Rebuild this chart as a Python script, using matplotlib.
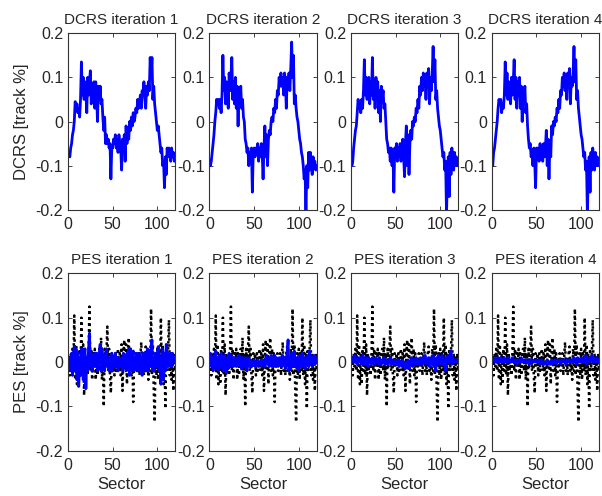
import numpy as np
import matplotlib
matplotlib.use("Agg")
import matplotlib.pyplot as plt

plt.rcParams['font.family'] = ['Liberation Sans', 'DejaVu Sans']
plt.rcParams['axes.unicode_minus'] = False

# DCRS per iteration, sectors 0..120
dcrs_1 = [-0.08, -0.07, -0.08, -0.06, -0.05, -0.03, -0.02, 0.00, 0.045, 0.03,
          0.04, 0.02, 0.03, 0.01, 0.05, 0.135, 0.06, 0.10, 0.05, 0.09,
          0.07, 0.02, 0.10, 0.06, 0.09, 0.115, 0.04, 0.08, 0.05, 0.09,
          0.03, 0.09, 0.06, 0.00, 0.08, 0.05, 0.08, 0.04, 0.05, 0.01,
          -0.02, 0.01, -0.05, -0.03, -0.05, -0.04, -0.06, -0.05, -0.13, -0.06,
          -0.06, -0.04, -0.05, -0.03, -0.06, -0.04, -0.07, -0.03, -0.05, -0.06,
          -0.11, -0.04, -0.07, -0.03, -0.09, -0.01, -0.05, -0.02, -0.04, 0.00,
          -0.02, 0.01, -0.01, 0.02, 0.00, 0.01, 0.03, 0.02, 0.05, 0.03,
          0.04, 0.06, 0.03, 0.07, 0.06, 0.09, 0.05, 0.03, 0.08, 0.06,
          0.09, 0.07, 0.145, 0.10, 0.145, 0.05, 0.08, 0.04, 0.02, 0.00,
          -0.02, -0.01, -0.03, -0.05, -0.07, -0.06, -0.10, -0.09, -0.15, -0.08,
          -0.12, -0.06, -0.08, -0.06, -0.07, -0.09, -0.06, -0.08, -0.07, -0.09, -0.08]

dcrs_2 = [-0.09, -0.10, -0.09, -0.07, -0.05, -0.03, 0.00, 0.02, 0.05, 0.04,
          0.05, 0.03, 0.05, 0.02, 0.06, 0.15, 0.07, 0.10, 0.04, 0.09,
          0.07, 0.03, 0.11, 0.07, 0.10, 0.145, 0.05, 0.09, 0.04, 0.10,
          0.03, 0.08, -0.01, 0.07, 0.04, 0.08, 0.03, 0.05, 0.01, 0.00,
          -0.04, -0.05, -0.07, -0.06, -0.10, -0.07, -0.08, -0.06, -0.16, -0.07,
          -0.06, -0.08, -0.06, -0.07, -0.05, -0.09, -0.06, -0.08, -0.05, -0.07,
          -0.13, -0.06, -0.01, -0.08, -0.03, -0.10, -0.04, -0.02, -0.03, 0.00,
          0.01, 0.00, 0.03, 0.02, 0.05, 0.03, 0.07, 0.06, 0.10, 0.08,
          0.11, 0.08, 0.10, 0.06, 0.11, 0.09, 0.03, 0.10, 0.08, 0.11,
          0.07, 0.12, 0.18, 0.10, 0.15, 0.04, 0.06, 0.03, 0.01, 0.00,
          -0.02, -0.04, -0.05, -0.07, -0.08, -0.10, -0.13, -0.11, -0.21, -0.10,
          -0.15, -0.07, -0.11, -0.07, -0.09, -0.12, -0.08, -0.10, -0.09, -0.11, -0.10]

dcrs_3 = [-0.07, -0.10, -0.09, -0.06, -0.04, -0.02, -0.01, 0.02, 0.05, 0.03,
          0.04, 0.02, 0.05, 0.03, 0.07, 0.14, 0.06, 0.10, 0.05, 0.08,
          0.10, 0.04, 0.09, 0.06, 0.145, 0.05, 0.09, 0.03, 0.10, 0.06,
          0.09, 0.02, 0.07, 0.00, 0.08, 0.05, 0.07, 0.03, 0.04, 0.00,
          -0.04, -0.05, -0.07, -0.06, -0.09, -0.06, -0.10, -0.07, -0.16, -0.06,
          -0.07, -0.05, -0.09, -0.06, -0.08, -0.05, -0.09, -0.06, -0.04, -0.08,
          -0.125, -0.05, -0.01, -0.10, -0.03, -0.12, -0.05, -0.02, -0.04, 0.00,
          -0.01, 0.01, 0.00, 0.03, 0.02, 0.05, 0.03, 0.08, 0.06, 0.10,
          0.07, 0.11, 0.08, 0.10, 0.05, 0.11, 0.08, 0.12, 0.04, 0.10,
          0.07, 0.11, 0.17, 0.09, 0.14, 0.05, 0.07, 0.03, 0.01, -0.01,
          -0.02, -0.04, -0.06, -0.08, -0.07, -0.11, -0.09, -0.21, -0.12, -0.08,
          -0.17, -0.07, -0.12, -0.06, -0.09, -0.11, -0.07, -0.10, -0.08, -0.10, -0.09]

dcrs_4 = [-0.08, -0.10, -0.07, -0.06, -0.04, -0.02, 0.00, 0.03, 0.05, 0.04,
          0.05, 0.02, 0.04, 0.03, 0.06, 0.135, 0.06, 0.11, 0.05, 0.09,
          0.07, 0.04, 0.10, 0.06, 0.09, 0.14, 0.05, 0.10, 0.03, 0.09,
          0.06, 0.10, 0.03, 0.08, 0.00, 0.07, 0.05, 0.08, 0.02, 0.04,
          -0.01, -0.04, -0.06, -0.05, -0.08, -0.07, -0.10, -0.06, -0.09, -0.15,
          -0.06, -0.08, -0.06, -0.09, -0.05, -0.07, -0.06, -0.09, -0.05, -0.08,
          -0.06, -0.02, -0.10, -0.04, -0.13, -0.05, -0.08, -0.01, -0.03, 0.00,
          -0.01, 0.01, 0.00, 0.03, 0.02, 0.05, 0.03, 0.07, 0.06, 0.10,
          0.08, 0.11, 0.07, 0.10, 0.05, 0.11, 0.09, 0.12, 0.04, 0.10,
          0.08, 0.11, 0.17, 0.09, 0.14, 0.05, 0.07, 0.03, 0.01, -0.01,
          -0.03, -0.04, -0.06, -0.08, -0.07, -0.11, -0.09, -0.21, -0.12, -0.08,
          -0.16, -0.07, -0.11, -0.06, -0.09, -0.11, -0.07, -0.10, -0.08, -0.10, -0.09]

# PES without compensation (black dotted, same in every panel)
pes_open = [-0.02, 0.01, -0.03, 0.02, -0.01, 0.03, -0.02, 0.105, -0.04, 0.04,
            -0.05, 0.02, -0.05, 0.03, -0.02, 0.10, -0.03, 0.04, -0.075, 0.02,
            -0.02, 0.01, -0.03, 0.02, 0.125, -0.02, 0.03, -0.04, 0.02, -0.01,
            0.03, -0.04, 0.02, -0.03, 0.01, 0.03, -0.02, 0.055, -0.04, 0.02,
            -0.10, 0.03, -0.01, 0.02, 0.08, -0.02, 0.03, -0.03, -0.07, 0.02,
            -0.01, 0.02, -0.03, 0.02, -0.02, 0.01, 0.03, -0.02, 0.02, -0.03,
            0.04, -0.065, 0.01, 0.05, -0.02, 0.04, -0.05, 0.03, 0.055, -0.02,
            0.03, -0.03, 0.02, -0.09, 0.01, -0.01, 0.02, -0.02, 0.00, 0.02,
            -0.03, 0.01, 0.045, -0.02, 0.01, -0.03, 0.02, 0.035, -0.02, 0.01,
            -0.04, 0.03, -0.02, 0.12, -0.03, 0.04, -0.06, -0.135, 0.02, -0.03,
            0.03, -0.04, 0.02, -0.02, 0.10, -0.03, 0.04, -0.05, 0.02, -0.105,
            0.03, -0.02, 0.02, 0.095, -0.03, 0.02, -0.04, 0.01, -0.065, 0.02, -0.02]

# PES per iteration (blue)
pes_1 = [0.00, -0.02, 0.01, -0.02, 0.02, -0.03, 0.02, 0.035, -0.02, 0.03,
         -0.04, 0.02, -0.055, 0.01, -0.03, 0.03, 0.02, -0.04, 0.01, 0.03,
         -0.06, 0.01, -0.02, 0.03, 0.065, -0.01, 0.02, -0.02, 0.01, -0.01,
         0.02, -0.01, 0.02, -0.02, 0.01, 0.02, 0.04, -0.02, 0.03, -0.01,
         0.01, -0.02, 0.02, 0.03, -0.01, 0.01, -0.02, 0.01, -0.01, 0.02,
         -0.02, 0.01, -0.01, 0.02, -0.01, 0.01, -0.02, 0.01, 0.00, -0.01,
         0.01, -0.02, 0.02, -0.01, 0.01, -0.02, 0.02, -0.01, 0.03, -0.03,
         0.03, -0.02, 0.01, 0.025, -0.02, 0.01, -0.01, 0.02, -0.02, 0.01,
         0.02, -0.02, 0.01, -0.03, 0.02, -0.01, 0.02, -0.02, 0.01, 0.03,
         -0.02, 0.02, -0.01, 0.03, 0.05, -0.02, 0.01, -0.02, 0.02, -0.01,
         0.02, 0.035, -0.02, 0.01, -0.05, 0.02, 0.03, -0.04, 0.02, -0.02,
         0.04, -0.01, 0.02, -0.01, 0.01, 0.02, -0.01, 0.02, 0.00, 0.01, 0.01]

pes_2 = [0.00, 0.02, -0.01, 0.01, -0.02, 0.015, -0.01, 0.025, -0.015, 0.01,
         -0.02, 0.015, -0.01, 0.02, -0.015, 0.01, -0.02, 0.015, -0.01, -0.025,
         0.01, -0.015, 0.02, -0.01, 0.015, -0.005, 0.01, -0.01, 0.01, 0.00,
         -0.01, 0.01, -0.005, 0.015, -0.01, 0.01, -0.015, 0.01, 0.00, -0.01,
         0.01, -0.015, -0.02, 0.01, 0.00, -0.01, 0.005, -0.01, 0.00, -0.005,
         0.005, -0.01, 0.00, -0.005, 0.005, -0.01, 0.00, -0.005, 0.005, -0.01,
         0.00, 0.005, -0.01, 0.01, 0.015, -0.005, 0.01, -0.01, 0.005, 0.015,
         -0.01, 0.01, -0.005, 0.015, -0.01, 0.01, 0.00, -0.01, 0.01, -0.005,
         0.01, -0.01, 0.015, -0.005, 0.01, -0.015, 0.01, 0.02, 0.05, -0.02,
         0.01, -0.015, 0.02, -0.01, 0.015, 0.025, -0.01, 0.01, -0.015, 0.01,
         -0.02, 0.015, -0.01, 0.01, 0.02, -0.01, 0.01, -0.015, 0.01, 0.00,
         0.015, -0.01, 0.025, -0.005, 0.01, -0.01, 0.01, 0.015, -0.005, 0.01, 0.00]

pes_3 = [0.01, 0.005, 0.01, 0.00, 0.015, 0.00, 0.01, -0.005, 0.01, 0.005,
         0.00, 0.01, -0.005, 0.015, 0.00, 0.01, -0.005, 0.01, 0.005, -0.01,
         0.01, 0.00, 0.005, -0.005, 0.01, 0.00, 0.005, -0.005, 0.01, 0.00,
         0.005, -0.005, 0.01, 0.00, -0.005, 0.005, 0.00, 0.01, -0.005, 0.005,
         0.00, -0.005, 0.005, 0.00, 0.01, -0.005, 0.00, 0.005, -0.005, 0.00,
         0.005, -0.005, 0.00, 0.005, -0.01, 0.00, -0.005, 0.005, -0.01, 0.00,
         -0.005, -0.015, 0.00, -0.01, 0.005, -0.015, 0.00, -0.005, 0.01, -0.01,
         0.00, 0.005, -0.005, 0.01, -0.005, 0.00, 0.005, -0.005, 0.01, 0.00,
         -0.005, 0.01, 0.00, 0.015, -0.005, 0.005, 0.00, 0.01, -0.01, 0.005,
         0.01, -0.005, 0.015, -0.01, 0.005, -0.02, 0.01, 0.00, 0.015, -0.005,
         0.01, 0.00, 0.015, -0.005, 0.01, -0.01, -0.02, 0.01, 0.005, 0.015,
         0.00, 0.01, 0.025, -0.005, 0.01, 0.00, 0.005, 0.00, 0.005, 0.00, 0.005]

pes_4 = [0.005, 0.01, 0.005, 0.00, 0.01, 0.005, 0.00, 0.01, 0.005, 0.00,
         0.01, 0.005, 0.00, 0.005, 0.01, 0.00, 0.005, 0.00, 0.01, 0.005,
         0.00, 0.005, 0.00, 0.01, 0.00, 0.005, 0.00, 0.005, -0.005, 0.005,
         0.00, 0.005, 0.00, 0.01, 0.00, 0.005, 0.00, 0.005, 0.00, 0.005,
         0.00, 0.005, -0.005, 0.005, 0.00, 0.005, 0.00, 0.00, 0.005, 0.00,
         0.005, 0.00, 0.00, 0.005, -0.005, 0.00, 0.005, 0.00, -0.005, 0.00,
         0.00, -0.005, 0.005, -0.005, 0.00, -0.005, 0.00, 0.005, -0.005, 0.00,
         0.005, 0.00, -0.005, 0.005, 0.00, 0.00, 0.005, -0.005, 0.00, 0.005,
         0.00, 0.005, 0.00, -0.005, 0.005, 0.00, 0.005, 0.00, 0.005, 0.00,
         0.005, 0.00, 0.01, 0.00, 0.005, -0.005, 0.01, 0.00, 0.005, 0.00,
         0.01, 0.00, 0.005, 0.01, 0.00, 0.015, -0.005, 0.01, 0.005, 0.00,
         0.01, 0.005, 0.015, 0.00, 0.01, 0.005, 0.00, 0.01, 0.005, 0.00, 0.005]

dcrs_runs = [dcrs_1, dcrs_2, dcrs_3, dcrs_4]
pes_runs = [pes_1, pes_2, pes_3, pes_4]
yticks = [-0.2, -0.1, 0, 0.1, 0.2]
ytick_labels = ['-0.2', '-0.1', '0', '0.1', '0.2']
xticks = [0, 50, 100]

fg = '#262626'
fig = plt.figure(figsize=(6.02, 4.96), dpi=100)

lefts = [0.113, 0.348, 0.583, 0.817]
w = 0.178


def style(ax):
    ax.set_xlim(0, 120)
    ax.set_ylim(-0.2, 0.2)
    ax.set_xticks(xticks)
    ax.set_yticks(yticks)
    ax.set_yticklabels(ytick_labels)
    ax.tick_params(direction='in', top=True, right=True, length=3,
                   labelsize=11.5, colors=fg, width=0.6)
    ax.tick_params(axis='x', pad=5)
    for s in ax.spines.values():
        s.set_color('#333333')
        s.set_linewidth(0.8)


for i in range(4):
    ax = fig.add_axes([lefts[i], 0.577, w, 0.356])
    y = dcrs_runs[i]
    ax.plot(np.arange(len(y)), y, color='#0000ff', lw=2.0)
    style(ax)
    ax.set_title(f'DCRS iteration {i + 1}', fontsize=11, color=fg, pad=7)
    if i == 0:
        ax.set_ylabel('DCRS [track %]', fontsize=12, color=fg, labelpad=5)

    ax = fig.add_axes([lefts[i], 0.091, w, 0.358])
    ax.plot(np.arange(len(pes_open)), pes_open, color='black', lw=1.8,
            linestyle=(0, (1, 1.4)))
    y = pes_runs[i]
    ax.plot(np.arange(len(y)), y, color='#0000ff', lw=2.0)
    style(ax)
    ax.set_title(f'PES iteration {i + 1}', fontsize=11, color=fg, pad=7)
    ax.set_xlabel('Sector', fontsize=12, color=fg, labelpad=3)
    if i == 0:
        ax.set_ylabel('PES [track %]', fontsize=12, color=fg, labelpad=5)

fig.savefig('out.png', dpi=100)
